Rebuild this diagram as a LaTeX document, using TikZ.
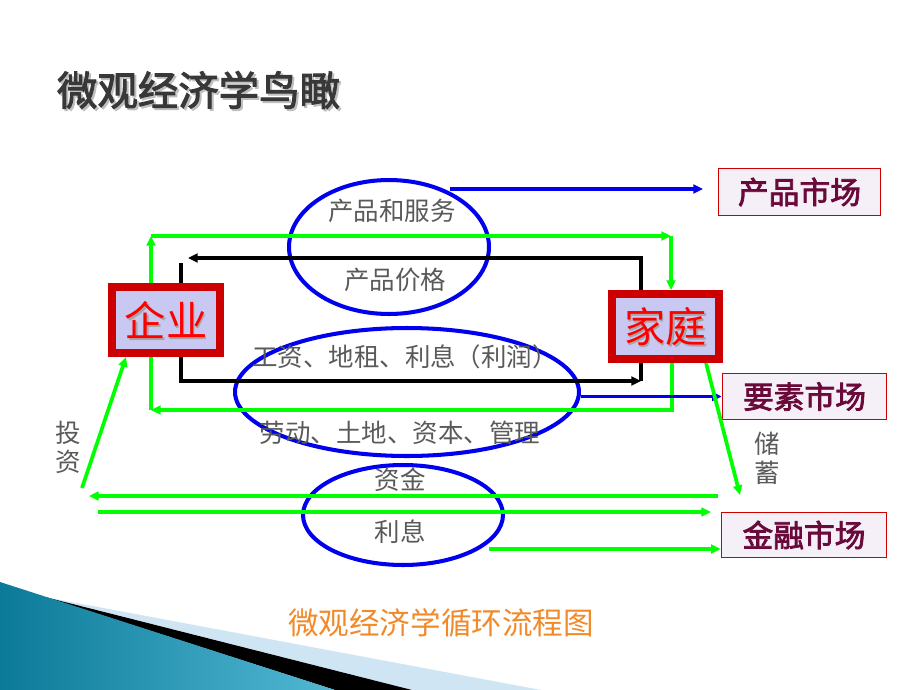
\documentclass[tikz,border=0pt]{standalone}
\usepackage{fontspec}
\newfontfamily\cjk{Noto Sans CJK SC}
\newfontfamily\cjkb[FakeBold=2.5]{Noto Sans CJK SC}
\usetikzlibrary{arrows.meta,shapes.geometric}
\definecolor{gtxt}{HTML}{5A5A5A}
\definecolor{lgreen}{HTML}{00FF00}
\definecolor{lblue}{HTML}{0000EE}
\definecolor{boxred}{HTML}{CC0000}
\definecolor{lav}{HTML}{C8C8F2}
\definecolor{mkfill}{HTML}{F5F0F8}
\definecolor{maroon}{HTML}{6A0A3A}
\definecolor{orng}{HTML}{F28A2A}
\definecolor{tealdark}{HTML}{0B7A98}
\definecolor{teallight}{HTML}{52B8D4}
\definecolor{paleblue}{HTML}{CFE5F3}
\tikzset{
  agent/.style={draw=boxred, line width=4.5pt, fill=lav, inner sep=0pt,
     font=\cjk\fontsize{23.5}{26}\selectfont, text=red},
  market/.style={draw=boxred, line width=0.9pt, fill=mkfill, inner sep=0pt,
     font=\cjkb\fontsize{17.5}{20}\selectfont, text=maroon},
  oval/.style={ellipse, draw=lblue, line width=2.3pt, inner sep=0pt},
  lbl/.style={font=\cjk\fontsize{14.5}{16.5}\selectfont, text=gtxt, inner sep=0pt},
  vlbl/.style={font=\cjk\fontsize{14.5}{16.5}\selectfont, text=gtxt, inner sep=0pt, align=center},
  tip/.style={-{Triangle[length=5.5pt,width=5pt]}},
  garrow/.style={draw=lgreen, line width=2.1pt, tip},
  gline/.style={draw=lgreen, line width=2.1pt},
  barrow/.style={draw=lblue, line width=1.9pt, tip},
  karrow/.style={draw=black, line width=1.8pt, tip},
  kline/.style={draw=black, line width=1.8pt},
}
\begin{document}
\begin{tikzpicture}[x=0.02cm,y=-0.02cm]
\useasboundingbox[fill=white] (0,0) rectangle (920,690);

% bottom-left decoration
\fill[paleblue] (50,598) -- (541,690) -- (412,690) -- cycle;
\fill[black] (45,597) -- (412,690) -- (335,690) -- cycle;
\shade[left color=tealdark, right color=teallight] (0,582) -- (335,690) -- (0,690) -- cycle;

% title
\node[font=\cjkb\fontsize{23}{26}\selectfont, text=black!25, inner sep=0pt] (titleshadow) at (200.5,92) {微观经济学鸟瞰};
\node[font=\cjkb\fontsize{23}{26}\selectfont, text=black!78, inner sep=0pt] (title) at (198.5,90) {微观经济学鸟瞰};

% ellipses
\node[oval, minimum width=4cm, minimum height=2.68cm] (e1) at (389,247) {};
\node[oval, minimum width=6.88cm, minimum height=2.56cm] (e2) at (407,392) {};
\node[oval, minimum width=4cm, minimum height=2cm] (e3) at (403,515) {};

% agents
\node[agent, minimum width=2.16cm, minimum height=1.32cm] (firm) at (166,320) {};
\node[font=\cjk\fontsize{23.5}{26}\selectfont, text=black!35] (firmsh) at (167.5,322) {企业};
\node[font=\cjk\fontsize{23.5}{26}\selectfont, text=red] (firmtxt) at (166,320) {企业};
\node[agent, minimum width=2.14cm, minimum height=1.30cm] (hh) at (665.5,326.5) {};
\node[font=\cjk\fontsize{23.5}{26}\selectfont, text=black!35] (hhsh) at (667,328.5) {家庭};
\node[font=\cjk\fontsize{23.5}{26}\selectfont, text=red] (hhtxt) at (665.5,326.5) {家庭};

% markets
\node[market, minimum width=3.24cm, minimum height=0.94cm] (pm) at (799.5,192) {产品市场};
\node[market, minimum width=3.28cm, minimum height=0.92cm] (fm) at (804.5,396.5) {要素市场};
\node[market, minimum width=3.30cm, minimum height=0.90cm] (fin) at (804,535) {金融市场};

% coordinates
\coordinate (pstart) at (450,189);
\coordinate (pend) at (703,189);
\coordinate (g1) at (151,236);
\coordinate (g2) at (671,236);
\coordinate (b1) at (641,258);
\coordinate (b2) at (188,258);
\coordinate (b3) at (181,263);
\coordinate (b4) at (181,381);
\coordinate (b5) at (641,381);
\coordinate (g3) at (672,410);
\coordinate (g4) at (151,410);
\coordinate (s1) at (706,363);
\coordinate (s2) at (740,495);
\coordinate (i1) at (82,488);
\coordinate (i2) at (126,357);
\coordinate (f1) at (718,496);
\coordinate (f2) at (89,496);
\coordinate (f3) at (98,512);
\coordinate (f4) at (711,512);
\coordinate (f5) at (489,549);

% connectors
\draw[barrow] (pstart) -- (pend);
\draw[garrow] (firm.north -| g1) -- (g1);
\draw[garrow] (g1) -- (g2);
\draw[garrow] (g2) -- (hh.north -| g2);
\draw[karrow] (hh.north -| b1) -- (b1) -- (b2);
\draw[kline] (b3) -- (firm.north -| b3);
\draw[karrow] (firm.south -| b4) -- (b4) -- (b5);
\draw[kline] (b5) -- (hh.south -| b5);
\draw[garrow] (hh.south -| g3) -- (g3) -- (g4);
\draw[gline] (g4) -- (firm.south -| g4);
\draw[barrow] (e2.east |- fm.west) -- (fm.west);
\draw[garrow] (hh.south -| s1) -- (s2);
\draw[garrow] (i1) -- (i2);
\draw[garrow] (f1) -- (f2);
\draw[garrow] (f3) -- (f4);
\draw[garrow] (f5) -- (f5 -| fin.west);

% labels
\node[lbl] (l1) at (392,211) {产品和服务};
\node[lbl] (l2) at (395,280) {产品价格};
\node[lbl] (l3) at (405,357) {工资、地租、利息（利润）};
\node[lbl] (l4) at (400,433) {劳动、土地、资本、管理};
\node[lbl] (l5) at (400,480) {资金};
\node[lbl] (l6) at (400,532) {利息};
\node[vlbl] (l7) at (68,447) {投\\资};
\node[vlbl] (l8) at (767,458) {储\\蓄};

% caption
\node[font=\cjk\fontsize{17.4}{20}\selectfont, text=orng, inner sep=0pt] (cap) at (441,623) {微观经济学循环流程图};
\end{tikzpicture}
\end{document}
